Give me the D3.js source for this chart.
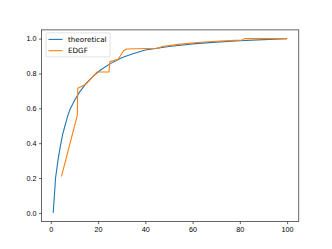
<!DOCTYPE html>
<html>
<head>
<meta charset="utf-8">
<script src="https://cdn.jsdelivr.net/npm/d3@7"></script>
<style>
  body { margin: 0; background: #fff; }
  svg { display: block; font-family: "DejaVu Sans", sans-serif; }
  .axis text { font-size: 7.2px; fill: #000; }
  .axis path, .axis line { stroke: #000; stroke-width: 0.6; }
</style>
</head>
<body>
<div id="chart"></div>
<script>
// theoretical curve
const theoX = [1, 1.5, 2, 3, 4, 5, 6, 7, 8, 10, 12, 15, 18, 21, 25, 30, 35, 40, 50, 60, 70, 80, 90, 100];
const theoY = [0, 0.1, 0.2, 0.3, 0.38, 0.45, 0.5, 0.55, 0.59, 0.645, 0.69, 0.745, 0.785, 0.82, 0.855, 0.89, 0.915, 0.935, 0.955, 0.97, 0.98, 0.988, 0.994, 1.0];

// EDGF curve
const edgfX = [4.5, 11.2, 11.4, 15, 19.5, 24.6, 25, 28.5, 30.8, 32, 44.5, 46, 47, 54, 62, 70, 78, 81, 82, 100];
const edgfY = [0.21, 0.56, 0.715, 0.74, 0.808, 0.808, 0.868, 0.882, 0.93, 0.94, 0.945, 0.947, 0.955, 0.967, 0.978, 0.985, 0.99, 0.992, 1.0, 1.0];

const seriesNames = ["theoretical", "EDGF"];
const seriesColors = ["#1f77b4", "#ff7f0e"];

const xTicks = [0, 20, 40, 60, 80, 100];
const yTicks = [0.0, 0.2, 0.4, 0.6, 0.8, 1.0];

const W = 332, H = 249;
const margin = { top: 29.9, right: 33.2, bottom: 27.4, left: 41.5 };
const width = W - margin.left - margin.right;
const height = H - margin.top - margin.bottom;

const svg = d3.select("#chart").append("svg")
    .attr("width", W)
    .attr("height", H);

const g = svg.append("g")
    .attr("transform", "translate(" + margin.left + "," + margin.top + ")");

// 5% margins like matplotlib
const x = d3.scaleLinear().domain([1 - 99 * 0.05, 100 + 99 * 0.05]).range([0, width]);
const y = d3.scaleLinear().domain([-0.05, 1.05]).range([height, 0]);

const xAxis = d3.axisBottom(x).tickValues(xTicks).tickSize(2.5).tickPadding(2.5).tickFormat(d3.format("d"));
const yAxis = d3.axisLeft(y).tickValues(yTicks).tickSize(2.5).tickPadding(2.5).tickFormat(d3.format(".1f"));

g.append("g")
    .attr("class", "x-axis axis")
    .attr("transform", "translate(0," + height + ")")
    .call(xAxis)
    .call(s => s.select(".domain").remove());

g.append("g")
    .attr("class", "y-axis axis")
    .call(yAxis)
    .call(s => s.select(".domain").remove());

// lines
const line = d3.line().x(d => x(d[0])).y(d => y(d[1]));
const series = [
    d3.zip(theoX, theoY),
    d3.zip(edgfX, edgfY)
];

g.selectAll(".series")
    .data(series)
    .enter().append("path")
    .attr("class", "series")
    .attr("fill", "none")
    .attr("stroke", (d, i) => seriesColors[i])
    .attr("stroke-width", 1.1)
    .attr("stroke-linejoin", "round")
    .attr("d", line);

// frame
g.append("rect")
    .attr("width", width)
    .attr("height", height)
    .attr("fill", "none")
    .attr("stroke", "#000")
    .attr("stroke-width", 0.6);

// legend
const legend = g.append("g")
    .attr("transform", "translate(4.5,3)");

legend.append("rect")
    .attr("width", 64)
    .attr("height", 24)
    .attr("rx", 1.5)
    .attr("fill", "#fff")
    .attr("fill-opacity", 0.8)
    .attr("stroke", "#cccccc")
    .attr("stroke-width", 0.6);

seriesNames.forEach((name, i) => {
    const ly = 6.5 + i * 11.3;
    legend.append("line")
        .attr("x1", 2.5).attr("x2", 16.5)
        .attr("y1", ly).attr("y2", ly)
        .attr("stroke", seriesColors[i])
        .attr("stroke-width", 1.1);
    legend.append("text")
        .attr("x", 22)
        .attr("y", ly)
        .attr("dy", "0.35em")
        .style("font-size", "7.2px")
        .text(name);
});
</script>
</body>
</html>
